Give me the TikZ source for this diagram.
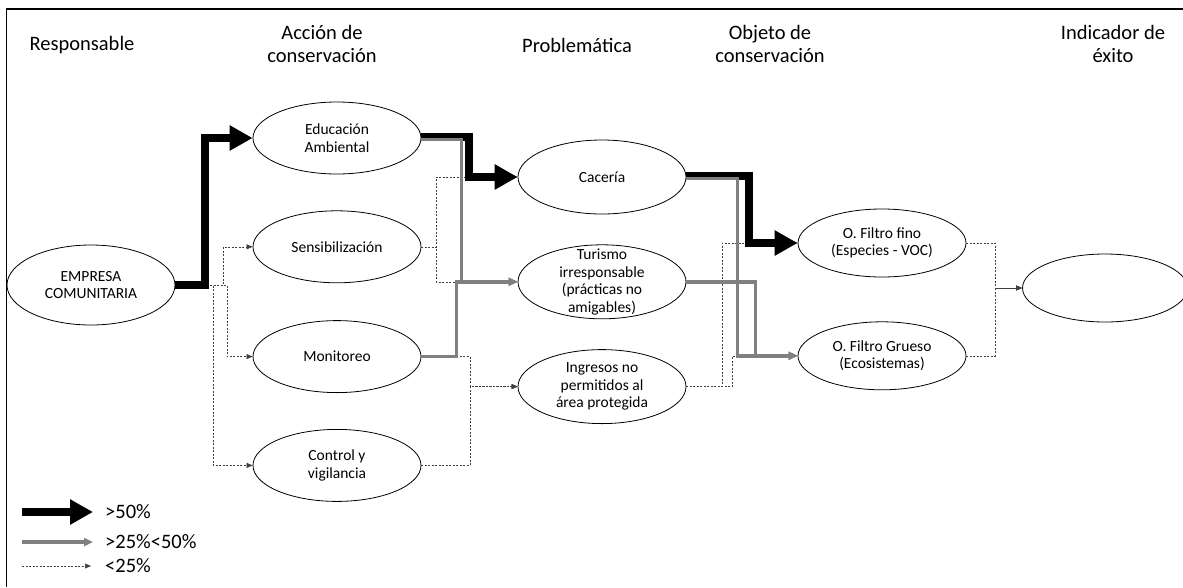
\documentclass[tikz,border=0pt]{standalone}
\usepackage{fontspec}
\setmainfont{Carlito}
\usetikzlibrary{shapes.geometric, arrows.meta, positioning}

\begin{document}
\begin{tikzpicture}[
    x=1pt, y=-1pt,
    node distance=36pt,
    colhead/.style={align=center, font=\fontsize{20.5}{23}\selectfont},
    actbox/.style={ellipse, draw, line width=0.8pt, minimum width=168pt, minimum height=72pt, inner sep=0pt, align=center, font=\fontsize{15.5}{17.5}\selectfont},
    legendlabel/.style={anchor=west, inner sep=0pt, font=\fontsize{20.5}{24}\selectfont},
    bigarrow/.style={-{Triangle[length=23pt, width=24pt]}, line width=8pt, draw=black},
    midarrow/.style={-{Triangle[length=9pt, width=8pt]}, line width=3.5pt, draw=black!50},
    lowarrow/.style={-{Triangle[length=6pt, width=5pt]}, line width=0.6pt, draw=black!75, dash pattern=on 2pt off 1.5pt},
]
\useasboundingbox (0,0) rectangle (1183,587);
\draw[line width=1.6pt] (6.5,587) |- (1183,9);

% ============ Responsable ============
\node[colhead] (hresp) at (82,45) {Responsable};
\node[actbox, minimum height=80pt] (empresa) at (91,285) {EMPRESA\\COMUNITARIA};

% ============ Accion de conservacion ============
\node[colhead] (hacc) at (322,44) {Acción de\\conservación};
\node[actbox] (educ) at (337,138) {Educación\\Ambiental};
\node[actbox, below=36pt of educ] (sensib) {Sensibilización};
\node[actbox, below=37pt of sensib] (monit) {Monitoreo};
\node[actbox, below=36pt of monit] (control) {Control y\\vigilancia};

% ============ Problematica ============
\node[colhead] (hprob) at (577,45) {Problemática};
\node[actbox, minimum height=74pt] (caceria) at (602,177) {Cacería};
\node[actbox, minimum height=74pt, inner ysep=-9pt, below=30pt of caceria] (turismo) {Turismo\\irresponsable\\(prácticas no\\amigables)};
\node[actbox, minimum height=74pt, below=30pt of turismo] (ingresos) {Ingresos no\\permitidos al\\área protegida};

% ============ Objeto de conservacion ============
\node[colhead] (hobj) at (770,44) {Objeto de\\conservación};
\node[actbox, minimum height=68pt] (fino) at (882,243) {O. Filtro fino\\(Especies - VOC)};
\node[actbox, minimum height=68pt, below=44pt of fino] (grueso) {O. Filtro Grueso\\(Ecosistemas)};

% ============ Indicador de exito ============
\node[colhead] (hind) at (1113,44) {Indicador de\\éxito};
\node[actbox, minimum width=165pt, minimum height=68pt] (indic) at (1105,288) {};

% <25% arrows
\draw[lowarrow] (empresa.east) -- ++(48,0) |- (sensib.west);
\draw[lowarrow] (empresa.east) -- ++(52,0) |- (monit.west);
\draw[lowarrow] (empresa.east) -- ++(38,0) |- (control.west);
\draw[lowarrow] (sensib.east) -- ++(15,0) |- (caceria.west);
\draw[lowarrow] (sensib.east) -- ++(15,0) |- (turismo.west);
\draw[lowarrow] (monit.east) -- ++(49,0) |- (ingresos.west);
\draw[lowarrow] (control.east) -- ++(49,0) |- (ingresos.west);
\draw[lowarrow] (ingresos.east) -- ++(36,0) |- (fino.west);
\draw[lowarrow] (ingresos.east) -- ++(46,0) |- (grueso.west);
\draw[lowarrow] (fino.east) -- ++(29,0) |- (indic.west);
\draw[lowarrow] (grueso.east) -- ++(29,0) |- (indic.west);

% >50% arrows
\draw[bigarrow] (empresa.east) -- ++(30,0) |- (educ.west);
\draw[bigarrow] ([yshift=1.5pt]educ.east) -- ++(48,0) |- (caceria.west);
\draw[bigarrow] ([yshift=1pt]caceria.east) -- ++(63,0) |- (fino.west);

% >25%<50% arrows
\draw[midarrow] ([yshift=-1.5pt]educ.east) -- ++(40,0) |- (turismo.west);
\draw[midarrow] (monit.east) -- ++(35,0) |- (turismo.west);
\draw[midarrow] ([yshift=-1.5pt]caceria.east) -- ++(51,0) |- (grueso.west);
\draw[midarrow] (turismo.east) -- ++(69,0) |- (grueso.west);

% ============ Legend ============
\node[legendlabel] (l50) at (105,512) {>50\%};
\node[legendlabel] (l25) at (105,542) {>25\%<50\%};
\node[legendlabel] (l0) at (105,566) {<25\%};
\coordinate (lg50) at (22,512);
\coordinate (lg25) at (22,542);
\coordinate (lg0) at (22,566);
\draw[bigarrow] (lg50) -- ([xshift=-12pt]l50.west);
\draw[midarrow] (lg25) -- ([xshift=-12pt]l25.west);
\draw[lowarrow] (lg0) -- ([xshift=-14pt]l0.west);

\end{tikzpicture}
\end{document}
